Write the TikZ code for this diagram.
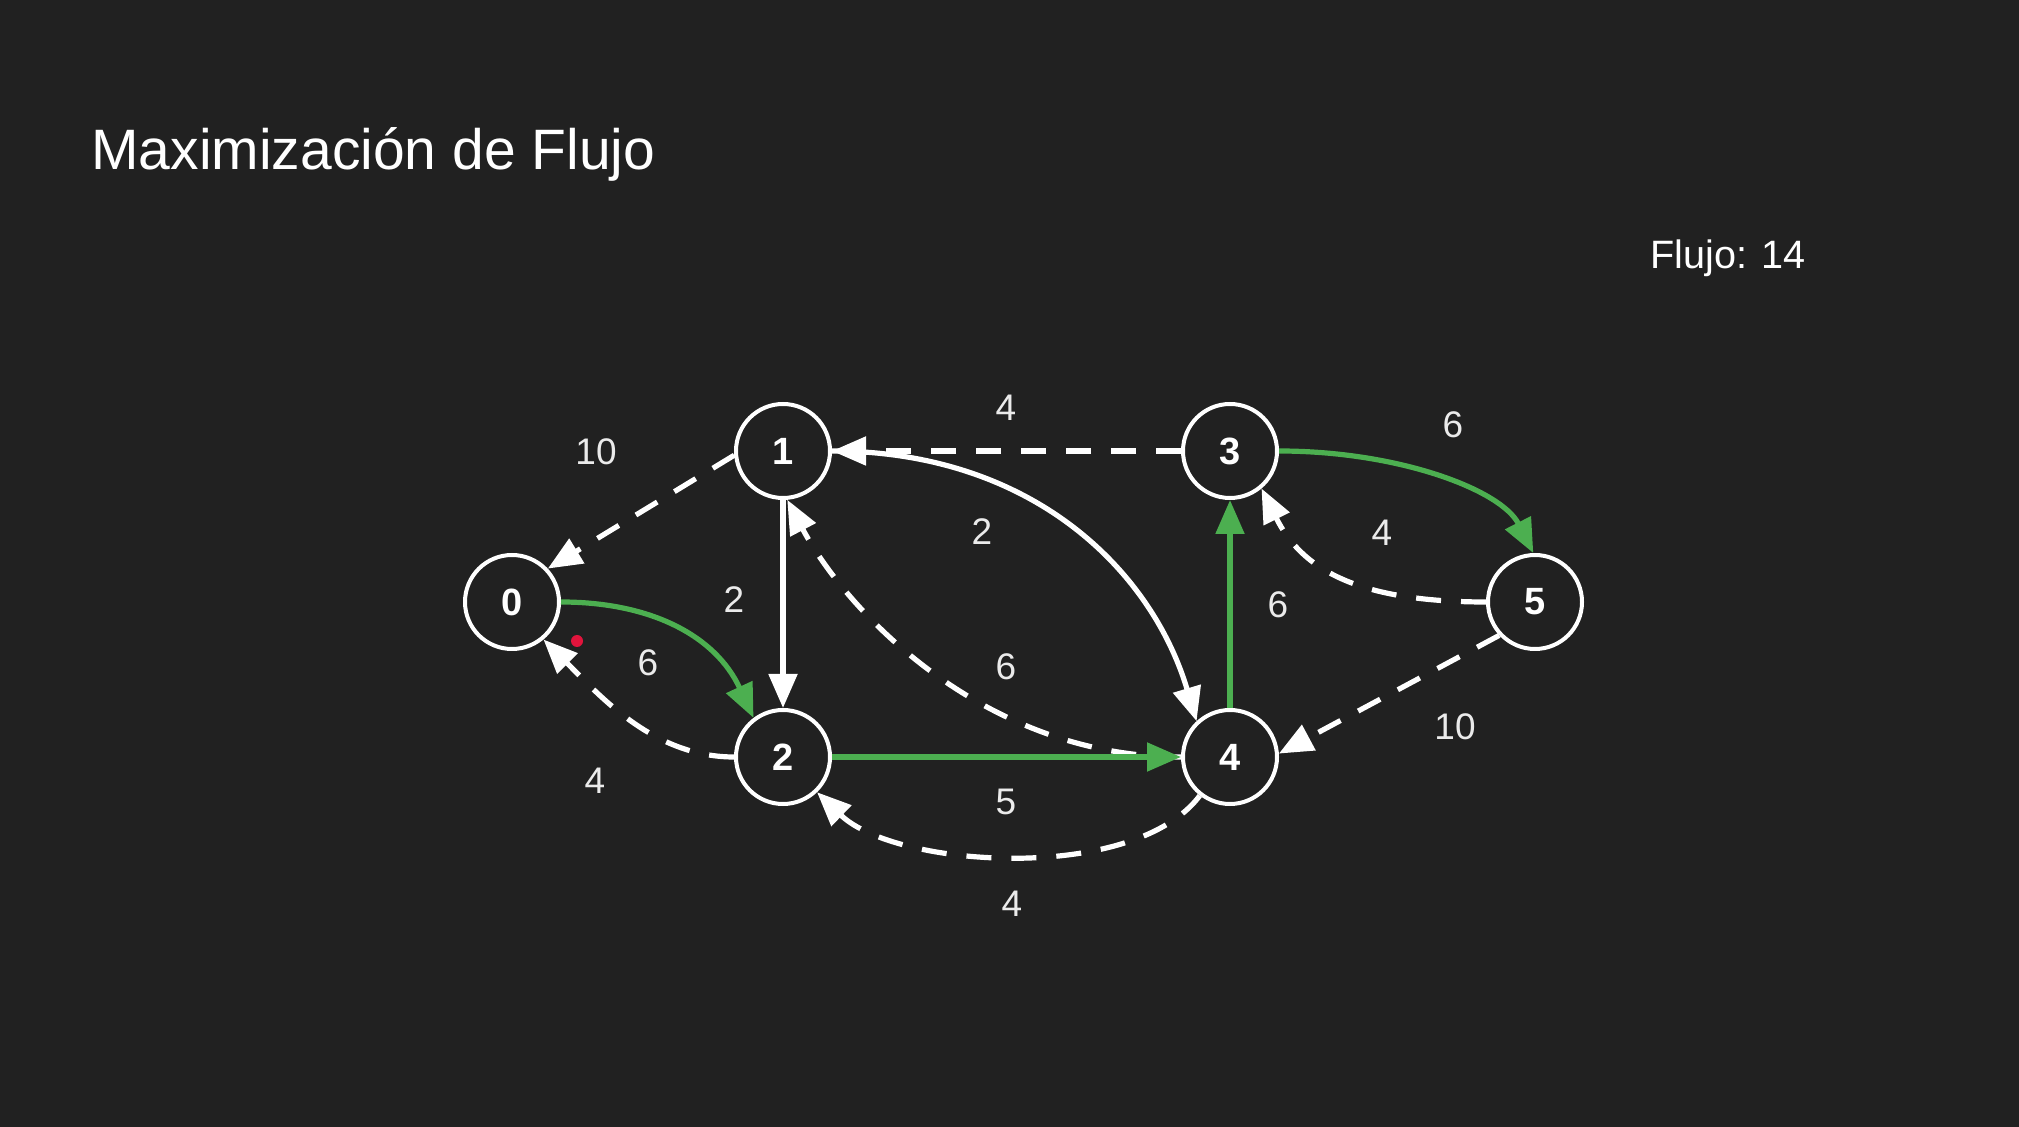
\documentclass[tikz,border=0pt]{standalone}
\usepackage{fontspec}
\setmainfont{Liberation Sans}
\usetikzlibrary{arrows.meta}
\definecolor{bg}{RGB}{33,33,33}
\definecolor{flow}{RGB}{76,175,80}
\definecolor{txt}{RGB}{235,235,235}
\definecolor{dotred}{RGB}{225,20,60}
\begin{document}
\begin{tikzpicture}[x=0.5pt,y=-0.5pt,
  vertex/.style={circle,draw=white,line width=2pt,minimum size=47pt,inner sep=0pt,
    font=\fontsize{19}{19}\selectfont\bfseries,text=white},
  edge/.style={draw=white,line width=2.6pt,-{Triangle[length=17pt,width=14pt]}},
  res/.style={edge,dash pattern=on 12.5pt off 10pt},
  aug/.style={edge,draw=flow},
  wlabel/.style={font=\fontsize{18.5}{18.5}\selectfont,text=txt,inner sep=0pt},
  ]
\useasboundingbox (0,0) rectangle (2019,1127);
\fill[bg] (0,0) rectangle (2019,1127);

\node[anchor=base west,inner sep=0pt,font=\fontsize{28.5}{28.5}\selectfont,text=white] (title) at (91,170) {Maximización de Flujo};
\node[anchor=base west,inner sep=0pt,font=\fontsize{19.8}{19.8}\selectfont,text=white] (flujo) at (1650,269) {Flujo: 14};

\node[vertex] (n0) at (512,602) {0};
\node[vertex] (n1) at (783,451) {1};
\node[vertex] (n2) at (783,757) {2};
\node[vertex] (n3) at (1230,451) {3};
\node[vertex] (n4) at (1230,757) {4};
\node[vertex] (n5) at (1535,602) {5};

% residual (dashed) edges
\draw[res] (n1.185) -- (n0.43);
\draw[res] (n2.180) .. controls +(-80,0) and +(57,57) .. (n0.-50);
\draw[res] (n3.west) -- (n1.east);
\draw[res] (n4.west) .. controls +(-200,0) and +(57,108) .. (n1.-85);
\draw[res] (n4.-128) .. controls +(-66,88) and +(79,76) .. (n2.-46);
\draw[res] (n5.west) .. controls +(-130,0) and +(40,80) .. (n3.-50);
\draw[res] (n5.223) -- (n4.4);

% white solid edges
\draw[edge] (n1.south) -- (n2.north);
\draw[edge] (n1.east) .. controls +(200,0) and +(-45,-151) .. (n4.133);

% augmenting path (green)
\draw[aug] (n0.east) .. controls +(90,0) and +(-38,-82) .. (n2.127);
\draw[aug] (n2.east) -- (n4.west);
\draw[aug] (n4.north) -- (n3.south);
\draw[aug] (n3.east) .. controls +(120,0) and +(-32,-63) .. (n5.92);

% labels
\node[wlabel] (l10) at (596,452) {10};
\node[wlabel] (l02) at (648,663) {6};
\node[wlabel] (l20) at (595,781) {4};
\node[wlabel] (l12) at (734,600) {2};
\node[wlabel] (l31) at (1006,408) {4};
\node[wlabel] (l14) at (982,532) {2};
\node[wlabel] (l41) at (1006,667) {6};
\node[wlabel] (l24) at (1006,802) {5};
\node[wlabel] (l42) at (1012,904) {4};
\node[wlabel] (l43) at (1278,605) {6};
\node[wlabel] (l35) at (1453,425) {6};
\node[wlabel] (l53) at (1382,533) {4};
\node[wlabel] (l54) at (1455,727) {10};

\fill[dotred] (577,641) circle[radius=6];
\end{tikzpicture}
\end{document}
